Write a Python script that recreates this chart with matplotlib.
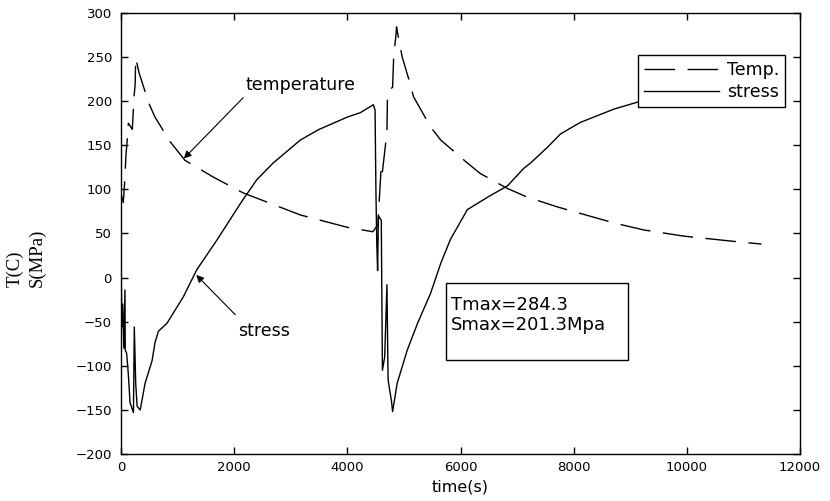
import matplotlib
matplotlib.use("Agg")
import matplotlib.pyplot as plt
from matplotlib.patches import Rectangle

# Peak values reported in the text box
tmax = 284.3
smax = 201.3

# Temperature history (C) vs time (s): two heating events with cooling tails
temp_time = [0, 40, 60, 90, 110, 130, 200, 230, 250, 260, 320, 490, 600, 870,
             1130, 1630, 2160, 3170, 4000, 4450, 4540, 4600, 4620, 4700, 4710,
             4800, 4820, 4860, 4870, 4880, 4970, 5100, 5170, 5470, 5650, 6120,
             6350, 6830, 7190, 7720, 8710, 9240, 9950, 10840, 11320]
temp_vals = [95, 85, 103, 141, 156, 175, 168, 205, 219, 249, 232, 198, 182, 154,
             133, 114, 96, 71, 57, 52, 60, 128, 120, 165, 210,
             216, 252, 275, tmax, 280, 250, 222, 205, 171, 156, 130,
             118, 101, 91, 80, 62, 54, 47, 41, 38]

# Stress history (MPa) vs time (s)
stress_time = [0, 15, 30, 50, 70, 75, 100, 130, 160, 220, 235, 260, 285, 340,
               425, 550, 600, 660, 725, 810, 1100, 1340, 1700, 2110, 2400, 2690,
               3170, 3500, 4000, 4230, 4460, 4490, 4505, 4520, 4535, 4550, 4600,
               4620, 4660, 4700, 4720, 4780, 4800, 4880, 5060, 5240, 5470, 5650,
               5820, 6120, 6500, 6830, 7120, 7240, 7540, 7770, 8120, 8710, 9130,
               9600, 10200, 11300]
stress_vals = [31, -56, -30, -80, -14, -82, -86, -110, -142, -153, -56, -120, -146, -150,
               -120, -94, -74, -61, -57, -52, -22, 9, 43, 84, 111, 130,
               156, 168, 182, 187, 196, 190, 100, 40, 8, 70, 65,
               -105, -90, -8, -116, -140, -152, -120, -82, -52, -18, 16,
               43, 77, 92, 104, 124, 130, 148, 163, 176, 191, 199,
               smax, 201, 200]

x_ticks = [0, 2000, 4000, 6000, 8000, 10000, 12000]
y_ticks = [-200, -150, -100, -50, 0, 50, 100, 150, 200, 250, 300]

plt.rcParams['font.family'] = ['DejaVu Sans']

fig = plt.figure(figsize=(8.3, 5.01), dpi=100)
ax = fig.add_axes([121 / 830, 1 - 454 / 501, 679 / 830, 441 / 501])

temp_line, = ax.plot(temp_time, temp_vals, color='k', lw=1.0, label='Temp.')
temp_line.set_dashes((22, 9))
stress_line, = ax.plot(stress_time, stress_vals, color='k', lw=1.0, label='stress')

ax.set_xlim(0, 12000)
ax.set_ylim(-200, 300)
ax.set_xticks(x_ticks)
ax.set_yticks(y_ticks)
ax.tick_params(direction='in', top=True, right=True, length=5, width=1,
               labelsize=9.5, colors='k')
ax.tick_params(axis='x', pad=5)
ax.tick_params(axis='y', pad=6.5)
for sp in ax.spines.values():
    sp.set_linewidth(1.0)
    sp.set_color('k')

ax.set_xlabel('time(s)', fontsize=11.5, va='center')
ax.xaxis.set_label_coords(0.5, -0.075)

# Two-line vertical axis title
fig.text(15 / 830, 1 - 287 / 501, 'T(C)', rotation=90, ha='center', va='bottom',
         family='Liberation Serif', fontsize=13.5)
fig.text(37 / 830, 1 - 287 / 501, 'S(MPa)', rotation=90, ha='center', va='bottom',
         family='Liberation Serif', fontsize=13.5)

# Curve callouts
ax.text(2195, 218, 'temperature', fontsize=12.5, ha='left', va='center')
ax.annotate('', xy=(1110, 135), xytext=(2160, 204),
            arrowprops=dict(arrowstyle='-|>', color='k', lw=0.8,
                            mutation_scale=11, shrinkA=0, shrinkB=0))
ax.text(2070, -60, 'stress', fontsize=12.5, ha='left', va='center')
ax.annotate('', xy=(1330, 3), xytext=(2018, -42),
            arrowprops=dict(arrowstyle='-|>', color='k', lw=0.8,
                            mutation_scale=11, shrinkA=0, shrinkB=0))

# Peak-value box
ax.add_patch(Rectangle((5735, -93), 8957 - 5735, 87, fill=True, facecolor='white',
                       edgecolor='k', lw=1.0, zorder=3))
ax.text(5824, -31, f'Tmax={tmax}', fontsize=13, ha='left', va='center', zorder=4)
ax.text(5824, -54, f'Smax={smax}Mpa', fontsize=13, ha='left', va='center', zorder=4)

leg = ax.legend(loc='upper right', bbox_to_anchor=(0.978, 0.905), borderaxespad=0,
                fancybox=False, edgecolor='k', framealpha=1, fontsize=12.5,
                handlelength=4.3, handletextpad=0.45, labelspacing=0.25,
                borderpad=0.35)
leg.get_frame().set_linewidth(1.0)

fig.savefig('out.png', dpi=100)
